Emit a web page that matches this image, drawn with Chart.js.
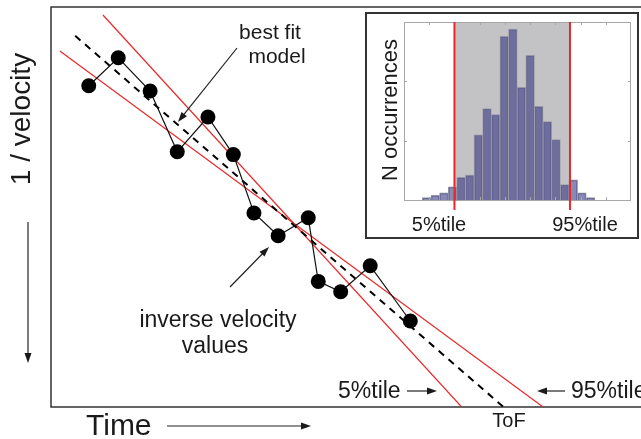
<!DOCTYPE html>
<html lang="en">
<head>
    <meta charset="UTF-8">
    <title>Inverse velocity forecast</title>
    <script src="https://cdn.jsdelivr.net/npm/chart.js"></script>
    <style>
        body { margin: 0; background: #ffffff; }
        canvas { display: block; }
        #wrap { position: relative; width: 641px; height: 439px; }
        /* inset histogram box */
        #inset {
            position: absolute;
            left: 365px; top: 12px;
            width: 274px; height: 227px;
            border: 2px solid #333333;
            box-sizing: border-box;
            background: #ffffff;
        }
    </style>
</head>
<body>
    <div id="wrap">
        <canvas id="mainChart" width="641" height="439"></canvas>
        <div id="inset"><canvas id="histChart" width="270" height="223"></canvas></div>
    </div>

    <script>
        // observed inverse velocity values
        const timeValues  = [0.64, 1.14, 1.68, 2.14, 2.66, 3.09, 3.44, 3.85, 4.36, 4.53, 4.91, 5.41, 6.09];
        const invVelocity = [8.03, 8.73, 7.90, 6.38, 7.25, 6.31, 4.85, 4.28, 4.73, 3.14, 2.88, 3.53, 2.15];

        // fitted lines (end points)
        const fitTime  = [0.41, 7.67];
        const fitInv   = [9.28, 0];
        const lowTime  = [0.88, 6.96];   // 5%tile
        const lowInv   = [9.80, 0];
        const highTime = [0.15, 8.34];   // 95%tile
        const highInv  = [8.90, 0];

        // inset histogram of ToF
        const binCenters = [0.897, 1.239, 1.581, 1.923, 2.265, 2.607, 2.949, 3.291, 3.633, 3.975,
                            4.317, 4.659, 5.001, 5.343, 5.685, 6.027, 6.369, 6.711, 7.053, 7.395];
        const binCounts  = [2, 4, 6, 11, 19, 21, 55, 77, 72, 138, 144, 95, 122, 79, 66, 51, 13, 17, 6, 2];
        const pct5  = 2.0;
        const pct95 = 6.58;
        const histXTicks = [1, 2, 3, 4, 5, 6, 7, 8];
        const histYTicks = [50, 100];

        const FONT = "'Liberation Sans', Arial, sans-serif";
        const INK = '#1a1a1a';

        function toXY(xs, ys) {
            return xs.map((x, i) => ({ x: x, y: ys[i] }));
        }

        function arrow(ctx, x1, y1, x2, y2) {
            const a = Math.atan2(y2 - y1, x2 - x1);
            const len = 10, half = 3.5;
            ctx.beginPath();
            ctx.moveTo(x1, y1);
            ctx.lineTo(x2 - Math.cos(a) * len * 0.8, y2 - Math.sin(a) * len * 0.8);
            ctx.stroke();
            ctx.beginPath();
            ctx.moveTo(x2, y2);
            ctx.lineTo(x2 - Math.cos(a) * len - Math.sin(a) * half, y2 - Math.sin(a) * len + Math.cos(a) * half);
            ctx.lineTo(x2 - Math.cos(a) * len + Math.sin(a) * half, y2 - Math.sin(a) * len - Math.cos(a) * half);
            ctx.closePath();
            ctx.fill();
        }

        // frame, labels and arrows of the main panel
        const mainDecor = {
            id: 'mainDecor',
            beforeDatasetsDraw(chart) {
                const { ctx, chartArea: a } = chart;
                ctx.save();
                ctx.strokeStyle = '#333333';
                ctx.lineWidth = 1.5;
                ctx.beginPath();
                ctx.moveTo(a.right, a.top);
                ctx.lineTo(a.left, a.top);
                ctx.lineTo(a.left, a.bottom);
                ctx.lineTo(a.right, a.bottom);
                ctx.stroke();
                ctx.restore();
            },
            afterDraw(chart) {
                const ctx = chart.ctx;
                ctx.save();
                ctx.fillStyle = INK;
                ctx.strokeStyle = '#222222';
                ctx.lineWidth = 1.2;

                // y title
                ctx.save();
                ctx.translate(30, 119);
                ctx.rotate(-Math.PI / 2);
                ctx.font = '28px ' + FONT;
                ctx.textAlign = 'center';
                ctx.fillText('1 / velocity', 0, 0);
                ctx.restore();
                arrow(ctx, 28, 222, 28, 363);

                // x title
                ctx.font = '30px ' + FONT;
                ctx.textAlign = 'left';
                ctx.fillText('Time', 86, 435);
                arrow(ctx, 167, 426, 311, 426);

                // best fit
                ctx.font = '21px ' + FONT;
                ctx.textAlign = 'center';
                ctx.fillText('best fit', 270, 39);
                ctx.fillText('model', 277, 63);
                arrow(ctx, 237, 48, 178, 122);

                // inverse velocity values
                ctx.font = '23px ' + FONT;
                ctx.fillText('inverse velocity', 218, 327);
                ctx.fillText('values', 215, 353);
                arrow(ctx, 230, 287, 269, 247);

                // percentile lines
                ctx.textAlign = 'left';
                ctx.fillText('5%tile', 338, 398);
                arrow(ctx, 407, 391, 437, 391);
                ctx.fillText('95%tile', 571, 398);
                arrow(ctx, 565, 391, 537, 391);

                ctx.font = '20px ' + FONT;
                ctx.textAlign = 'center';
                ctx.fillText('ToF', 509, 427);
                ctx.restore();
            }
        };

        new Chart(document.getElementById('mainChart'), {
            type: 'scatter',
            data: {
                datasets: [
                    {
                        data: toXY(timeValues, invVelocity),
                        showLine: true,
                        borderColor: '#111111',
                        borderWidth: 1.2,
                        pointRadius: 7.5,
                        pointBackgroundColor: '#000000',
                        pointBorderWidth: 0
                    },
                    {
                        data: toXY(fitTime, fitInv),
                        showLine: true,
                        borderColor: '#000000',
                        borderWidth: 2,
                        borderDash: [7, 6],
                        pointRadius: 0
                    },
                    {
                        data: toXY(lowTime, lowInv),
                        showLine: true,
                        borderColor: '#e8282a',
                        borderWidth: 1.2,
                        pointRadius: 0
                    },
                    {
                        data: toXY(highTime, highInv),
                        showLine: true,
                        borderColor: '#e8282a',
                        borderWidth: 1.2,
                        pointRadius: 0
                    }
                ]
            },
            options: {
                responsive: false,
                animation: false,
                devicePixelRatio: 1,
                events: [],
                layout: { autoPadding: false, padding: { left: 51, top: 7, right: 0, bottom: 32 } },
                plugins: { legend: { display: false }, tooltip: { enabled: false } },
                scales: {
                    x: { type: 'linear', min: 0, max: 10, display: false },
                    y: { type: 'linear', min: 0, max: 10, display: false }
                }
            },
            plugins: [mainDecor]
        });

        // shading, percentile lines, box and labels of the inset
        const histDecor = {
            id: 'histDecor',
            beforeDatasetsDraw(chart) {
                const { ctx, chartArea: a, scales } = chart;
                const x5 = scales.x.getPixelForValue(pct5);
                const x95 = scales.x.getPixelForValue(pct95);
                ctx.save();
                ctx.fillStyle = '#c3c2c5';
                ctx.fillRect(x5, a.top, x95 - x5, a.bottom - a.top);
                ctx.restore();
            },
            afterDatasetsDraw(chart) {
                const { ctx, chartArea: a, scales } = chart;
                ctx.save();
                ctx.strokeStyle = '#a8a8a8';
                ctx.lineWidth = 1;
                ctx.strokeRect(a.left + 0.5, a.top + 0.5, a.right - a.left - 1, a.bottom - a.top);
                ctx.beginPath();
                histXTicks.forEach(v => {
                    const px = Math.round(scales.x.getPixelForValue(v)) + 0.5;
                    ctx.moveTo(px, a.top); ctx.lineTo(px, a.top + 3);
                    ctx.moveTo(px, a.bottom); ctx.lineTo(px, a.bottom - 3);
                });
                histYTicks.forEach(v => {
                    const py = Math.round(scales.y.getPixelForValue(v)) + 0.5;
                    ctx.moveTo(a.left, py); ctx.lineTo(a.left + 3, py);
                    ctx.moveTo(a.right, py); ctx.lineTo(a.right - 3, py);
                });
                ctx.stroke();

                ctx.strokeStyle = '#e8282a';
                ctx.lineWidth = 2;
                [pct5, pct95].forEach(v => {
                    const px = scales.x.getPixelForValue(v);
                    ctx.beginPath();
                    ctx.moveTo(px, a.top);
                    ctx.lineTo(px, a.bottom + 10);
                    ctx.stroke();
                });

                ctx.fillStyle = INK;
                ctx.font = '20px ' + FONT;
                ctx.textAlign = 'center';
                ctx.fillText('5%tile', 72, 217);
                ctx.fillText('95%tile', 218, 217);

                ctx.translate(30, 96);
                ctx.rotate(-Math.PI / 2);
                ctx.font = '22px ' + FONT;
                ctx.fillText('N occurrences', 0, 0);
                ctx.restore();
            }
        };

        new Chart(document.getElementById('histChart'), {
            type: 'bar',
            data: {
                datasets: [{
                    data: toXY(binCenters, binCounts),
                    backgroundColor: 'rgba(40, 40, 122, 0.55)',
                    borderColor: '#9797a6',
                    borderWidth: 1,
                    barPercentage: 1,
                    categoryPercentage: 1
                }]
            },
            options: {
                responsive: false,
                animation: false,
                devicePixelRatio: 1,
                events: [],
                layout: { autoPadding: false, padding: { left: 37, top: 8, right: 6, bottom: 37 } },
                plugins: { legend: { display: false }, tooltip: { enabled: false } },
                scales: {
                    x: { type: 'linear', min: 0, max: 9, offset: false, display: false },
                    y: { type: 'linear', min: 0, max: 150, display: false }
                }
            },
            plugins: [histDecor]
        });
    </script>
</body>
</html>
